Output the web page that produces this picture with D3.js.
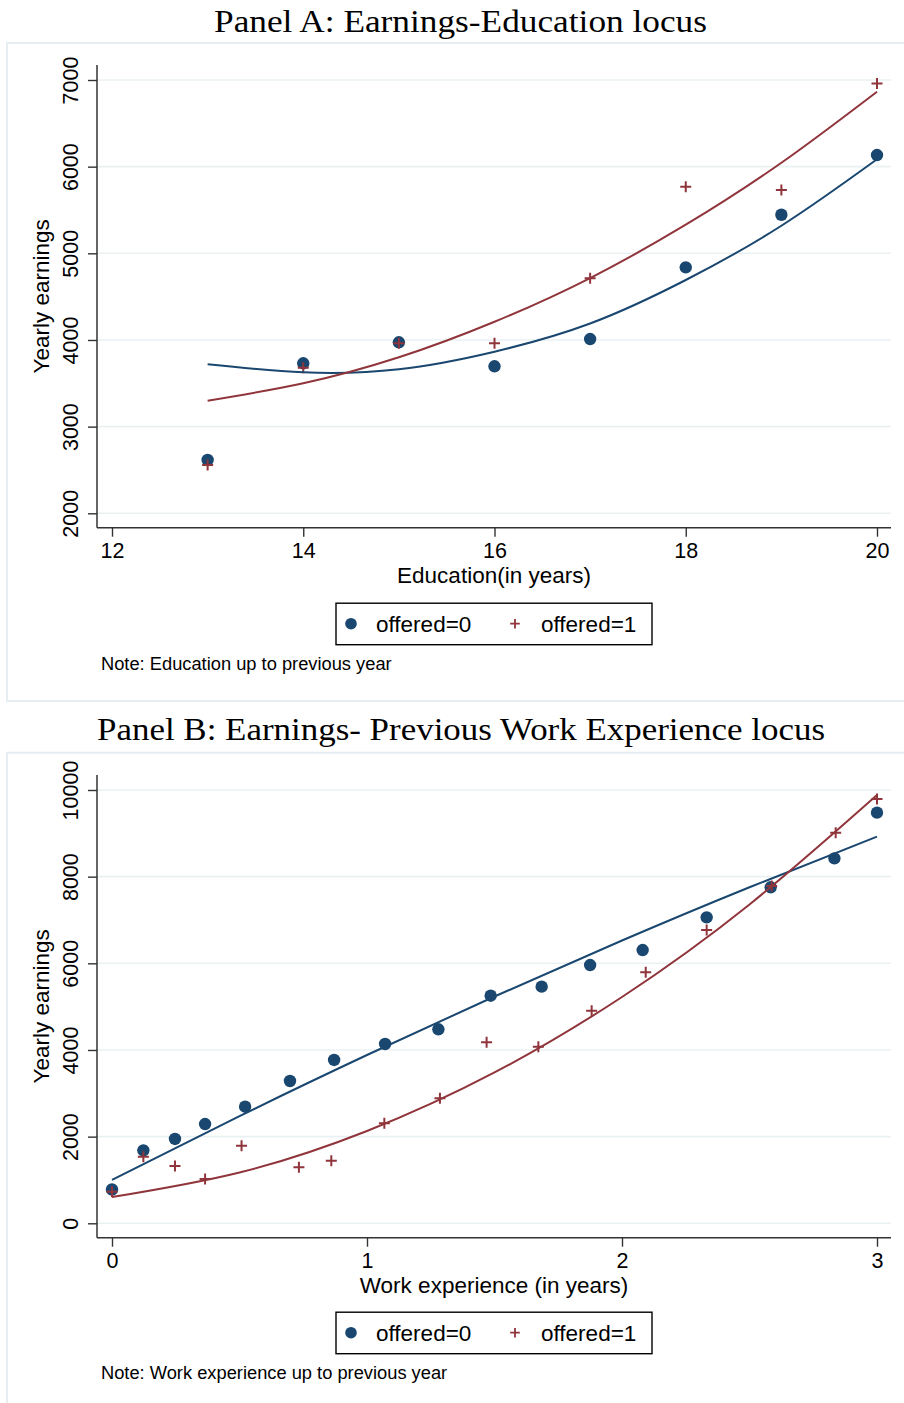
<!DOCTYPE html>
<html><head><meta charset="utf-8">
<script src="https://cdn.jsdelivr.net/npm/d3@7/dist/d3.min.js"></script>
<style>
html,body{margin:0;padding:0;background:#fff;}
svg{display:block;}
</style></head>
<body>
<svg id="chart" width="904" height="1403"></svg>
<script>
// ---------- Panel A data ----------
const eduYears = [13, 14, 15, 16, 17, 18, 19, 20];
const eduEarn0 = [2615, 3731, 3973, 3696, 4011, 4838, 5445, 6134];
const eduEarn1 = [2557, 3680, 3961, 3961, 4711, 5768, 5730, 6961];
const eduFitX  = [13, 14, 15, 16, 17, 18, 19, 20];
const eduFit0  = [3719, 3627, 3662, 3865, 4190, 4692, 5318, 6085];
const eduFit1  = [3299, 3500, 3800, 4210, 4715, 5330, 6045, 6865];
const eduTicksX = [12, 14, 16, 18, 20];
const eduTicksY = [2000, 3000, 4000, 5000, 6000, 7000];

// ---------- Panel B data ----------
const exp0X = [0, 0.123, 0.247, 0.365, 0.522, 0.698, 0.871, 1.071, 1.28, 1.485, 1.685, 1.875, 2.081, 2.332, 2.583, 2.833, 3.0];
const exp0Y = [780, 1684, 1946, 2291, 2691, 3284, 3769, 4138, 4477, 5253, 5461, 5961, 6307, 7061, 7754, 8423, 9477];
const exp1X = [0, 0.123, 0.247, 0.365, 0.508, 0.733, 0.86, 1.068, 1.286, 1.469, 1.672, 1.881, 2.093, 2.332, 2.587, 2.838, 3.0];
const exp1Y = [729, 1538, 1323, 1023, 1792, 1292, 1446, 2308, 2885, 4177, 4077, 4908, 5793, 6769, 7784, 9015, 9792];
const expFitX = [0, 0.5, 1, 1.5, 2, 2.5, 3];
const expFit0 = [1000, 2473, 3884, 5235, 6526, 7755, 8923];
const expFit1 = [605, 1172, 2130, 3481, 5223, 7358, 9884];
const expTicksX = [0, 1, 2, 3];
const expTicksY = [0, 2000, 4000, 6000, 8000, 10000];

const seriesNames = ["offered=0", "offered=1"];

const BLUE = "#1a476f", RED = "#90353b", GRID = "#eaf1f3", FRAME = "#e6eef1";
const SANS = "'Liberation Sans', Arial, sans-serif";
const SERIF = "'Liberation Serif', 'Times New Roman', serif";

const svg = d3.select("#chart");

function drawPanel(cfg) {
  const g = svg.append("g");
  // outer frame
  g.append("rect").attr("x", 7).attr("y", cfg.boxTop).attr("width", 920).attr("height", cfg.boxH)
    .attr("fill", "none").attr("stroke", FRAME).attr("stroke-width", 2);
  // title
  g.append("text").attr("x", cfg.titleX).attr("y", cfg.titleY).attr("text-anchor", "middle")
    .attr("font-family", SERIF).attr("font-size", 32).attr("fill", "#000")
    .attr("textLength", cfg.titleW).attr("lengthAdjust", "spacingAndGlyphs")
    .text(cfg.title);

  const x = d3.scaleLinear().domain(cfg.xDomain).range([112, 877]);
  const y = d3.scaleLinear().domain(cfg.yDomain).range(cfg.yRange);
  const axX = 97, axRight = 891, axTop = cfg.axTop, axBottom = cfg.axBottom;

  // gridlines
  g.append("g").selectAll("line").data(cfg.ticksY).join("line")
    .attr("x1", axX).attr("x2", axRight).attr("y1", d => y(d)).attr("y2", d => y(d))
    .attr("stroke", GRID).attr("stroke-width", 1.6);

  // y axis
  const yAx = g.append("g").attr("transform", `translate(${axX},0)`)
    .call(d3.axisLeft(y).tickValues(cfg.ticksY).tickSize(9).tickFormat(d3.format("d")));
  yAx.select(".domain").remove();
  yAx.selectAll(".tick line").attr("stroke", "#333").attr("stroke-width", 1.4);
  yAx.selectAll(".tick text").attr("transform", "rotate(-90)").attr("x", 0).attr("y", -19.5).attr("dy", 0)
    .attr("text-anchor", "middle").attr("font-family", SANS).attr("font-size", 21.5).attr("fill", "#000");
  g.append("line").attr("x1", axX).attr("x2", axX).attr("y1", axTop).attr("y2", axBottom)
    .attr("stroke", "#333").attr("stroke-width", 1.5);

  // x axis
  const xAx = g.append("g").attr("transform", `translate(0,${axBottom})`)
    .call(d3.axisBottom(x).tickValues(cfg.ticksX).tickSize(9).tickFormat(d3.format("d")));
  xAx.select(".domain").remove();
  xAx.selectAll(".tick line").attr("stroke", "#333").attr("stroke-width", 1.4);
  xAx.selectAll(".tick text").attr("y", 30.3).attr("dy", 0)
    .attr("font-family", SANS).attr("font-size", 21.5).attr("fill", "#000");
  g.append("line").attr("x1", axX).attr("x2", axRight).attr("y1", axBottom).attr("y2", axBottom)
    .attr("stroke", "#333").attr("stroke-width", 1.5);

  // axis titles
  g.append("text").attr("transform", `translate(48.5,${(axTop + axBottom) / 2}) rotate(-90)`)
    .attr("text-anchor", "middle").attr("font-family", SANS).attr("font-size", 22.5).attr("fill", "#000")
    .text("Yearly earnings");
  g.append("text").attr("x", 494).attr("y", axBottom + 55.3).attr("text-anchor", "middle")
    .attr("font-family", SANS).attr("font-size", 22.5).attr("fill", "#000").text(cfg.xTitle);

  // scatter
  const pts0 = cfg.x0.map((v, i) => [v, cfg.y0[i]]);
  const pts1 = cfg.x1.map((v, i) => [v, cfg.y1[i]]);
  g.append("g").selectAll("circle").data(pts0).join("circle")
    .attr("cx", d => x(d[0])).attr("cy", d => y(d[1])).attr("r", 6.2).attr("fill", BLUE);
  g.append("g").selectAll("path").data(pts1).join("path")
    .attr("transform", d => `translate(${x(d[0])},${y(d[1])})`)
    .attr("d", "M-5.5,0H5.5M0,-5.5V5.5").attr("stroke", RED).attr("stroke-width", 2).attr("fill", "none");

  // fitted lines
  const line = d3.line().x(d => x(d[0])).y(d => y(d[1])).curve(d3.curveNatural);
  g.append("path").datum(cfg.fx.map((v, i) => [v, cfg.f0[i]])).attr("d", line)
    .attr("fill", "none").attr("stroke", BLUE).attr("stroke-width", 2);
  g.append("path").datum(cfg.fx.map((v, i) => [v, cfg.f1[i]])).attr("d", line)
    .attr("fill", "none").attr("stroke", RED).attr("stroke-width", 2);

  // legend
  const lt = axBottom + cfg.legOff;
  g.append("rect").attr("x", 336).attr("y", lt).attr("width", 316).attr("height", 41.5)
    .attr("fill", "#fff").attr("stroke", "#000").attr("stroke-width", 1.4);
  const my = lt + 20.5;
  g.append("circle").attr("cx", 351).attr("cy", my).attr("r", 5.8).attr("fill", BLUE);
  g.append("path").attr("transform", `translate(515,${my})`).attr("d", "M-4.8,0H4.8M0,-4.8V4.8")
    .attr("stroke", RED).attr("stroke-width", 1.8);
  g.append("text").attr("x", 376).attr("y", my + 8.5).attr("font-family", SANS).attr("font-size", 22.5)
    .attr("fill", "#000").text(seriesNames[0]);
  g.append("text").attr("x", 541).attr("y", my + 8.5).attr("font-family", SANS).attr("font-size", 22.5)
    .attr("fill", "#000").text(seriesNames[1]);

  // note
  g.append("text").attr("x", 101).attr("y", lt + 66.5).attr("font-family", SANS).attr("font-size", 18.3)
    .attr("fill", "#000").text(cfg.note);
}

drawPanel({
  boxTop: 43, boxH: 658,
  title: "Panel A: Earnings-Education locus", titleX: 460.5, titleY: 31.7, titleW: 493,
  xDomain: [12, 20], yDomain: [2000, 7000], yRange: [513.3, 80],
  axTop: 65, axBottom: 527.7,
  ticksX: eduTicksX, ticksY: eduTicksY,
  xTitle: "Education(in years)",
  x0: eduYears, y0: eduEarn0, x1: eduYears, y1: eduEarn1,
  fx: eduFitX, f0: eduFit0, f1: eduFit1,
  legOff: 75.5,
  note: "Note: Education up to previous year"
});

drawPanel({
  boxTop: 752.7, boxH: 700,
  title: "Panel B: Earnings- Previous Work Experience locus", titleX: 461, titleY: 740, titleW: 728,
  xDomain: [0, 3], yDomain: [0, 10000], yRange: [1223.3, 790],
  axTop: 775, axBottom: 1237.7,
  ticksX: expTicksX, ticksY: expTicksY,
  xTitle: "Work experience (in years)",
  x0: exp0X, y0: exp0Y, x1: exp1X, y1: exp1Y,
  fx: expFitX, f0: expFit0, f1: expFit1,
  legOff: 74.5,
  note: "Note: Work experience up to previous year"
});
</script>
</body></html>
